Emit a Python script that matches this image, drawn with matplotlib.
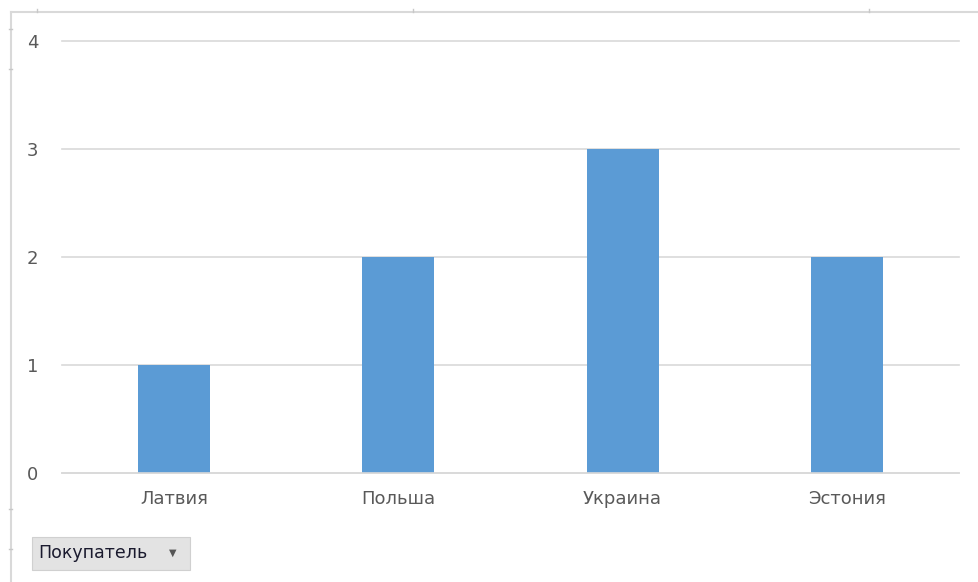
import matplotlib.pyplot as plt
from matplotlib.patches import Rectangle
from matplotlib.lines import Line2D

countries = ['Латвия', 'Польша', 'Украина', 'Эстония']
counts = [1, 2, 3, 2]
yticks = [0, 1, 2, 3, 4]
field_name = 'Покупатель'

W, H = 979, 582
dpi = 100
fig = plt.figure(figsize=(W / dpi, H / dpi), dpi=dpi)
plt.rcParams['font.family'] = ['DejaVu Sans']

# outer chart frame (top and left edges only visible)
fig.add_artist(Line2D([11 / W, 1], [1 - 12 / H, 1 - 12 / H], color='#d9d9d9', lw=1.5))
fig.add_artist(Line2D([11 / W, 11 / W], [0, 1 - 12 / H], color='#d9d9d9', lw=1.5))
for yy in [29, 69, 509, 549]:
    fig.add_artist(Line2D([9 / W, 12 / W], [1 - yy / H] * 2, color='#c8c8c8', lw=1))
for xx in [37, 413, 869]:
    fig.add_artist(Line2D([xx / W] * 2, [1 - 12 / H, 1 - 9 / H], color='#c8c8c8', lw=1))

ax = fig.add_axes([62 / W, (H - 473) / H, (959 - 62) / W, (473 - 41) / H])
xs = range(len(countries))
ax.bar(xs, counts, width=0.32, color='#5b9bd5', zorder=2)
ax.set_xlim(-0.5, len(countries) - 0.5)
ax.set_ylim(0, 4)
ax.set_yticks(yticks)
ax.set_xticks(list(xs))
ax.set_xticklabels(countries)
ax.yaxis.grid(True, color='#d9d9d9', lw=1.2, zorder=1, clip_on=False)
for s in ['top', 'right', 'left']:
    ax.spines[s].set_visible(False)
ax.spines['bottom'].set_color('#d9d9d9')
ax.spines['bottom'].set_linewidth(1.2)
ax.tick_params(axis='both', length=0, colors='#595959', labelsize=13)
ax.tick_params(axis='x', pad=12)
ax.tick_params(axis='y', pad=17)
for gl in ax.get_ygridlines():
    gl.set_clip_on(False)

# field button
fig.add_artist(Rectangle((32 / W, 1 - 570 / H), (190 - 32) / W, 33 / H,
                         facecolor='#e3e3e3', edgecolor='#d0d0d0', lw=0.8))
fig.text(38 / W, 1 - 553 / H, field_name, fontsize=12.5, color='#1a1a2e', va='center')
fig.text(173 / W, 1 - 553 / H, '▼', fontsize=7, color='#555555', va='center', ha='center')

fig.savefig('out.png', dpi=dpi)
